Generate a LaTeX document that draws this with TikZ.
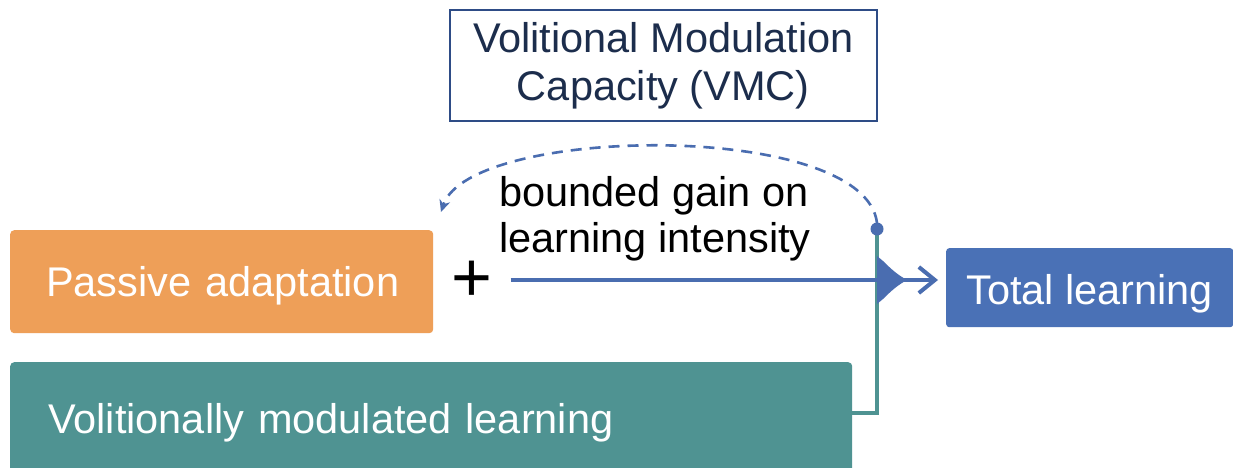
\documentclass[tikz,border=0pt]{standalone}
\usepackage{fontspec}
\setmainfont{Liberation Sans}
\usetikzlibrary{arrows.meta}
\definecolor{orangebox}{HTML}{EE9F58}
\definecolor{tealbox}{HTML}{4F9392}
\definecolor{bluebox}{HTML}{4A71B6}
\definecolor{blueline}{HTML}{4A6DB0}
\definecolor{navyframe}{HTML}{2E4C86}
\definecolor{navytext}{HTML}{1C2D4C}
\tikzset{
  bigtext/.style={font=\fontsize{41.5}{48}\selectfont},
  filledbox/.style={bigtext, text=white, rounded corners=4pt, inner sep=0pt, anchor=north west},
  flowline/.style={blueline, line width=4pt},
  feedback/.style={blueline, line width=2.6pt, dash pattern=on 11pt off 8pt},
}
\begin{document}
\begin{tikzpicture}[x=1pt,y=-1pt]
\useasboundingbox (0,0) rectangle (1233,468);
\fill[white] (0,0) rectangle (1233,468);

% capacity box
\node[draw=navyframe, line width=1.8pt, text=navytext, bigtext, align=center,
      minimum width=427pt, minimum height=111pt, inner sep=0pt, anchor=north west]
      (vmc) at (449,9) {Volitional Modulation\\Capacity (VMC)};

% components (text height/depth set the baseline inside each box)
\node[filledbox, fill=orangebox, minimum width=423pt, minimum height=103pt,
      text width=423pt, align=left, text height=38pt, text depth=9pt] (passive) at (10,230)
      {\hspace*{36pt}Passive adaptation};
\node[filledbox, fill=tealbox, minimum width=842pt, minimum height=110pt,
      text width=842pt, align=left, text height=41pt, text depth=9pt] (modulated) at (10,362)
      {\hspace*{38pt}Volitionally modulated learning};
\node[filledbox, fill=bluebox, rounded corners=3pt, minimum width=287pt, minimum height=79pt,
      text height=42pt, text depth=9pt] (total) at (946,248)
      {Total learning};

% sum sign and gain label
\node[font=\fontsize{70}{70}\selectfont, inner sep=0pt] (plus) at (472,281) {+};
\node[bigtext, align=left, inner sep=0pt, anchor=north west] (gain) at (499,176)
      {bounded gain on\\[-2pt]learning intensity};

% junction
\coordinate (tap) at (877,229);
\coordinate (merge) at (877,280);
\draw[tealbox, line width=4pt] (modulated.east |- 0,413) -| (tap);
\draw[flowline, -{Straight Barb[length=16pt,width=26pt,line width=4pt]}, shorten >=8pt]
  (plus.east |- merge) ++(18,0) -- (total.west |- merge);
\fill[blueline] (877,256) -- (883,261) .. controls (892,270) and (898,275) .. (907,280)
  .. controls (898,285) and (892,290) .. (883,299) -- (877,304) -- cycle;

% feedback from the tap to the passive term
\draw[feedback, -{Stealth[length=12pt,width=11pt]}]
  (tap) ++(0,-6) .. controls (865,120) and (470,125) .. (441,212);
\fill[blueline] (tap) circle (6.5pt);
\end{tikzpicture}
\end{document}
